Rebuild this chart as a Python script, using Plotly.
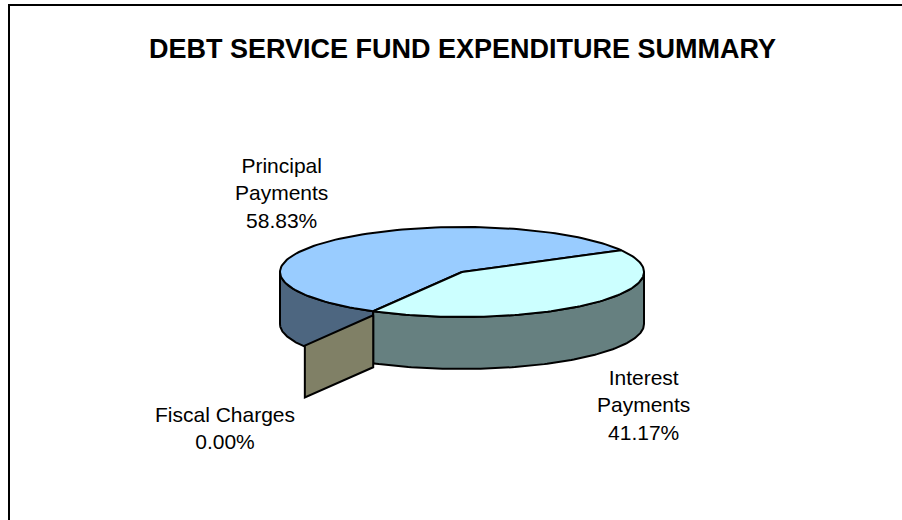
import numpy as np
import plotly.graph_objects as go

# Expenditure shares (percent)
categories = ["Principal Payments", "Interest Payments", "Fiscal Charges"]
shares = [58.83, 41.17, 0.00]
top_colors = ["#99CCFF", "#CCFFFF", "#FFFFCC"]
side_colors = ["#4D6680", "#668080", "#808066"]

title_text = "DEBT SERVICE FUND EXPENDITURE SUMMARY"

# Pie layout in page pixels (x right, y down)
W, H = 902, 520
CX, CY = 462, 272       # centre of the top face
RX, RY = 182, 45        # radii of the top ellipse
DEPTH = 52              # thickness of the disc
START_DEG = 240.8       # angle where the first slice begins, slices run clockwise
EXPLODE = 0.77          # how far the empty slice is pulled out, in radii
FONT = "Liberation Sans, Arial, sans-serif"
OUTLINE = dict(color="black", width=2)


def rim(theta_deg, drop=0.0):
    t = np.radians(theta_deg)
    return CX + RX * np.cos(t), CY - RY * np.sin(t) + drop


def arc(a_from, a_to, drop=0.0, n=120):
    th = np.linspace(a_from, a_to, n)
    return rim(th, drop)


# slice angle ranges (clockwise from START_DEG)
bounds = []
a = START_DEG
for s in shares:
    span = 360.0 * s / 100.0
    bounds.append((a - span, a))   # (low, high) in counter-clockwise terms
    a -= span

fig = go.Figure()


def poly(xs, ys, color):
    fig.add_trace(go.Scatter(
        x=np.append(xs, xs[0]), y=np.append(ys, ys[0]),
        mode="lines", fill="toself", fillcolor=color,
        line=OUTLINE, hoverinfo="skip", showlegend=False))


# front side walls (only the part facing the viewer: 180..360 degrees)
for (lo, hi), col in zip(bounds, side_colors):
    for k in (-1, 0, 1):
        vlo = max(lo, 180 + 360 * k)
        vhi = min(hi, 360 + 360 * k)
        if vhi - vlo > 1e-6:
            tx, ty = arc(vlo, vhi)
            bx, by = arc(vhi, vlo, DEPTH)
            poly(np.concatenate([tx, bx]), np.concatenate([ty, by]), col)

# top faces
for (lo, hi), col in zip(bounds, top_colors):
    if hi - lo > 1e-6:
        tx, ty = arc(lo, hi)
        poly(np.concatenate([[CX], tx]), np.concatenate([[CY], ty]), col)

# the empty slice, pulled out of the disc: only its radial wall shows
for (lo, hi), col in zip(bounds, side_colors):
    if hi - lo <= 1e-6:
        px, py = rim(lo)
        qx = px + EXPLODE * (px - CX)
        qy = py + EXPLODE * (py - CY)
        poly(np.array([px, qx, qx, px]),
             np.array([py + 4, qy + 4, qy + DEPTH + 4, py + DEPTH + 4]), col)

# slice labels
label_pos = [(281, 193), (643, 405), (225, 428)]
annotations = []
for name, s, (lx, ly) in zip(categories, shares, label_pos):
    if name == "Fiscal Charges":
        txt = f"{name}<br>{s:.2f}%"
    else:
        txt = "<br>".join(name.split(" ")) + f"<br>{s:.2f}%"
    annotations.append(dict(
        x=lx, y=ly, xref="x", yref="y", text=txt, showarrow=False,
        align="center", xanchor="center", yanchor="middle",
        font=dict(family=FONT, size=21, color="black")))

annotations.append(dict(
    x=CX, y=49, xref="x", yref="y", text=f"<b>{title_text}</b>",
    showarrow=False, xanchor="center", yanchor="middle",
    font=dict(family=FONT, size=27, color="black")))

fig.update_layout(
    width=W, height=H, autosize=False,
    margin=dict(l=0, r=0, t=0, b=0),
    paper_bgcolor="white", plot_bgcolor="white",
    xaxis=dict(range=[0, W], visible=False, fixedrange=True),
    yaxis=dict(range=[H, 0], visible=False, fixedrange=True),
    annotations=annotations,
    shapes=[dict(type="rect", xref="x", yref="y", x0=9, y0=5, x1=W + 10, y1=H + 10,
                 line=dict(color="black", width=2), layer="below")],
)

fig.write_html("out.html")
